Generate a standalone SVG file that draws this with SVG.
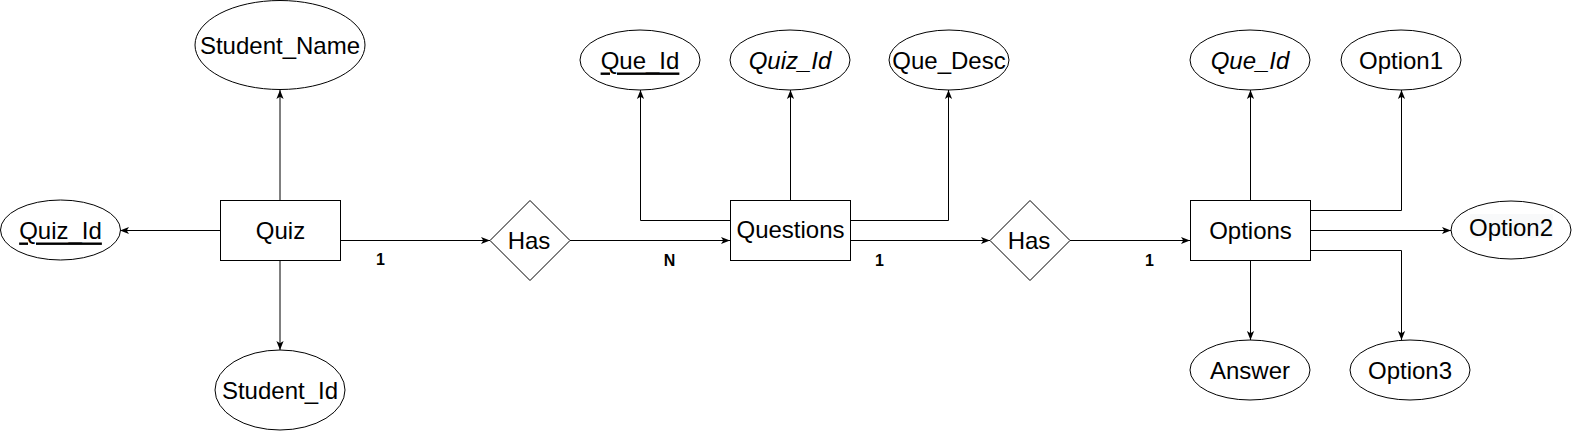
<svg xmlns="http://www.w3.org/2000/svg" width="1573" height="432" viewBox="0 0 1573 432">
<style>
.s{fill:#fff;stroke:#000;stroke-width:1}
.t{font-family:"Liberation Sans",Arial,sans-serif;font-size:24px;fill:#000;text-anchor:middle;dominant-baseline:central}
.c{font-family:"Liberation Sans",Arial,sans-serif;font-size:16px;font-weight:bold;fill:#000;text-anchor:middle;dominant-baseline:central}
.l{fill:none;stroke:#000;stroke-width:1}
</style>
<defs>
<marker id="arr" viewBox="0 0 10 10" refX="10" refY="5" markerWidth="9" markerHeight="9" markerUnits="userSpaceOnUse" orient="auto">
<path d="M0,1 L10,5 L0,9 L2.5,5 z" fill="#000"/>
</marker>
</defs>
<rect width="1573" height="432" fill="#fff"/>
<g id="connectors">
<path class="l" d="M280,200.5 V90" marker-end="url(#arr)"/>
<path class="l" d="M220,230.5 H120" marker-end="url(#arr)"/>
<path class="l" d="M280,260 V350" marker-end="url(#arr)"/>
<path class="l" d="M340,240.5 H490" marker-end="url(#arr)"/>
<path class="l" d="M570,240.5 H730" marker-end="url(#arr)"/>
<path class="l" d="M730,220.5 H640.5 V90" marker-end="url(#arr)"/>
<path class="l" d="M790.5,200 V90" marker-end="url(#arr)"/>
<path class="l" d="M850,220.5 H948.5 V90" marker-end="url(#arr)"/>
<path class="l" d="M850,240.5 H990" marker-end="url(#arr)"/>
<path class="l" d="M1070,240.5 H1190" marker-end="url(#arr)"/>
<path class="l" d="M1250.5,200 V90" marker-end="url(#arr)"/>
<path class="l" d="M1310,210.5 H1401.5 V90" marker-end="url(#arr)"/>
<path class="l" d="M1310,230.5 H1451" marker-end="url(#arr)"/>
<path class="l" d="M1310,250.5 H1401.5 V340" marker-end="url(#arr)"/>
<path class="l" d="M1250.5,260 V340" marker-end="url(#arr)"/>
<text class="c" x="380.5" y="259">1</text>
<text class="c" x="669.5" y="260">N</text>
<text class="c" x="879.5" y="260">1</text>
<text class="c" x="1149.5" y="260">1</text>
</g>
<g id="student_name"><ellipse class="s" cx="280" cy="45" rx="85" ry="44.5"/><text class="t" x="280" y="45">Student_Name</text></g>
<g id="quiz_id"><ellipse class="s" cx="60.5" cy="230" rx="60" ry="30"/><text class="t" x="60.5" y="230" text-decoration="underline">Quiz_Id</text></g>
<g id="quiz"><rect class="s" x="220.5" y="200.5" width="120" height="60"/><text class="t" x="280.5" y="230">Quiz</text></g>
<g id="student_id"><ellipse class="s" cx="280" cy="390" rx="65" ry="40"/><text class="t" x="280" y="390">Student_Id</text></g>
<g id="has1"><path class="s" d="M530,200.5 L570,240.5 L530,280.5 L490,240.5 Z"/><text class="t" x="529" y="240">Has</text></g>
<g id="questions"><rect class="s" x="730.5" y="200.5" width="120" height="60"/><text class="t" x="790.5" y="229">Questions</text></g>
<g id="que_id"><ellipse class="s" cx="640" cy="60" rx="60" ry="30"/><text class="t" x="640" y="60" text-decoration="underline">Que_Id</text></g>
<g id="quiz_id_fk"><ellipse class="s" cx="790" cy="60" rx="60" ry="30"/><text class="t" x="790" y="60" font-style="italic">Quiz_Id</text></g>
<g id="que_desc"><ellipse class="s" cx="949" cy="60" rx="60" ry="30"/><text class="t" x="949" y="60">Que_Desc</text></g>
<g id="has2"><path class="s" d="M1030,200.5 L1070,240.5 L1030,280.5 L990,240.5 Z"/><text class="t" x="1029" y="240">Has</text></g>
<g id="options"><rect class="s" x="1190.5" y="200.5" width="120" height="60"/><text class="t" x="1250.5" y="230">Options</text></g>
<g id="que_id_fk"><ellipse class="s" cx="1250" cy="60" rx="60" ry="30"/><text class="t" x="1250" y="60" font-style="italic">Que_Id</text></g>
<g id="option1"><ellipse class="s" cx="1401" cy="60" rx="60" ry="30"/><text class="t" x="1401" y="60">Option1</text></g>
<g id="option2"><ellipse class="s" cx="1511" cy="230" rx="60" ry="29"/><rect x="1470" y="214" width="83" height="24" fill="#f8f9fa"/><text class="t" x="1511" y="227">Option2</text></g>
<g id="answer"><ellipse class="s" cx="1250" cy="370" rx="60" ry="30"/><text class="t" x="1250" y="370">Answer</text></g>
<g id="option3"><ellipse class="s" cx="1410" cy="370" rx="60" ry="30"/><text class="t" x="1410" y="370">Option3</text></g>
</svg>
